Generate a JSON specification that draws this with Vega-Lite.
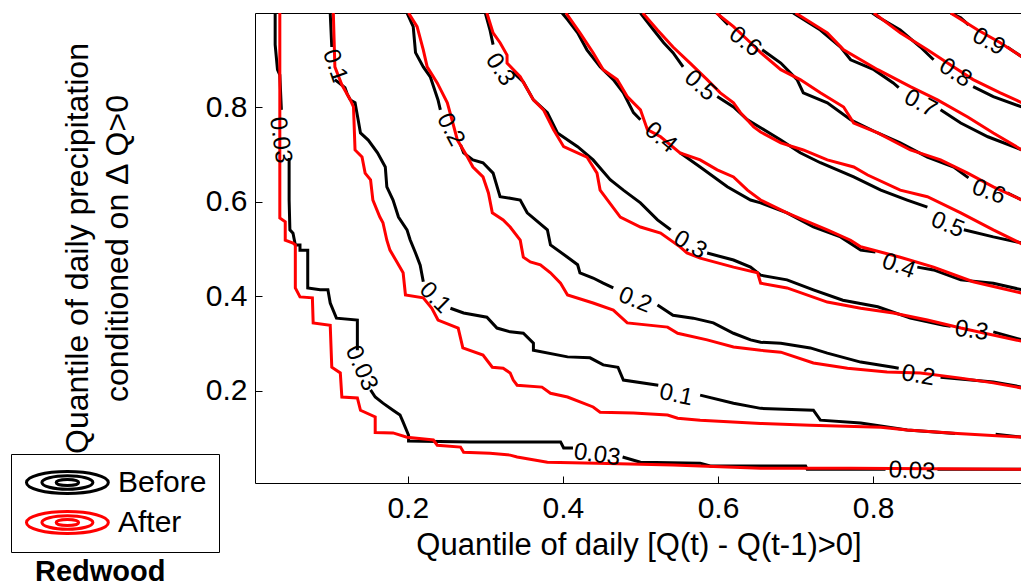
{
"$schema":"https://vega.github.io/schema/vega-lite/v6.json",
"width":767,"height":470,
"autosize":{"type":"none"},
"padding":{"left":255,"top":13,"right":0,"bottom":104},
"background":"white",
"config":{"font":"Liberation Sans","view":{"stroke":"black","strokeWidth":1},
"axis":{"grid":false,"domain":false,"labelFontSize":30,"labelColor":"black","titleFontSize":31,"titleFontWeight":"normal","titleColor":"black","tickColor":"black","tickSize":-7,"tickWidth":1,"labelFont":"Liberation Sans","titleFont":"Liberation Sans"}},
"title":{"text":"Redwood","orient":"bottom","anchor":"start","frame":"group","dx":-220,"fontSize":29,"fontWeight":"bold","font":"Liberation Sans","color":"black","offset":-2},
"datasets":{
"lines":[
{"s":"Before","g":"b03a","x":0.029,"y":1.0},{"s":"Before","g":"b03a","x":0.029,"y":0.933},{"s":"Before","g":"b03a","x":0.032,"y":0.880},{"s":"Before","g":"b03a","x":0.035,"y":0.869},{"s":"Before","g":"b03a","x":0.037,"y":0.795},
{"s":"Before","g":"b03b","x":0.047,"y":0.693},{"s":"Before","g":"b03b","x":0.047,"y":0.604},{"s":"Before","g":"b03b","x":0.048,"y":0.541},{"s":"Before","g":"b03b","x":0.052,"y":0.534},{"s":"Before","g":"b03b","x":0.055,"y":0.509},{"s":"Before","g":"b03b","x":0.061,"y":0.509},{"s":"Before","g":"b03b","x":0.061,"y":0.498},{"s":"Before","g":"b03b","x":0.071,"y":0.498},{"s":"Before","g":"b03b","x":0.071,"y":0.418},{"s":"Before","g":"b03b","x":0.087,"y":0.414},{"s":"Before","g":"b03b","x":0.097,"y":0.414},{"s":"Before","g":"b03b","x":0.100,"y":0.386},{"s":"Before","g":"b03b","x":0.108,"y":0.354},{"s":"Before","g":"b03b","x":0.135,"y":0.350},{"s":"Before","g":"b03b","x":0.135,"y":0.286},
{"s":"Before","g":"b03c","x":0.152,"y":0.202},{"s":"Before","g":"b03c","x":0.158,"y":0.187},{"s":"Before","g":"b03c","x":0.168,"y":0.174},{"s":"Before","g":"b03c","x":0.181,"y":0.159},{"s":"Before","g":"b03c","x":0.190,"y":0.149},{"s":"Before","g":"b03c","x":0.194,"y":0.134},{"s":"Before","g":"b03c","x":0.201,"y":0.106},{"s":"Before","g":"b03c","x":0.201,"y":0.094},{"s":"Before","g":"b03c","x":0.281,"y":0.092},{"s":"Before","g":"b03c","x":0.397,"y":0.092},{"s":"Before","g":"b03c","x":0.401,"y":0.079},{"s":"Before","g":"b03c","x":0.413,"y":0.079},
{"s":"Before","g":"b03d","x":0.477,"y":0.060},{"s":"Before","g":"b03d","x":0.500,"y":0.049},{"s":"Before","g":"b03d","x":0.577,"y":0.047},{"s":"Before","g":"b03d","x":0.590,"y":0.041},{"s":"Before","g":"b03d","x":0.713,"y":0.041},{"s":"Before","g":"b03d","x":0.715,"y":0.034},{"s":"Before","g":"b03d","x":0.816,"y":0.034},
{"s":"Before","g":"b03e","x":0.883,"y":0.034},{"s":"Before","g":"b03e","x":0.992,"y":0.034},
{"s":"Before","g":"b10a","x":0.100,"y":1.0},{"s":"Before","g":"b10a","x":0.101,"y":0.964},{"s":"Before","g":"b10a","x":0.102,"y":0.928},
{"s":"Before","g":"b10b","x":0.106,"y":0.859},{"s":"Before","g":"b10b","x":0.119,"y":0.842},{"s":"Before","g":"b10b","x":0.122,"y":0.828},{"s":"Before","g":"b10b","x":0.126,"y":0.816},{"s":"Before","g":"b10b","x":0.132,"y":0.810},{"s":"Before","g":"b10b","x":0.136,"y":0.774},{"s":"Before","g":"b10b","x":0.139,"y":0.746},{"s":"Before","g":"b10b","x":0.149,"y":0.731},{"s":"Before","g":"b10b","x":0.161,"y":0.704},{"s":"Before","g":"b10b","x":0.171,"y":0.674},{"s":"Before","g":"b10b","x":0.173,"y":0.632},{"s":"Before","g":"b10b","x":0.181,"y":0.604},{"s":"Before","g":"b10b","x":0.188,"y":0.568},{"s":"Before","g":"b10b","x":0.199,"y":0.541},{"s":"Before","g":"b10b","x":0.203,"y":0.520},{"s":"Before","g":"b10b","x":0.210,"y":0.492},{"s":"Before","g":"b10b","x":0.216,"y":0.466},{"s":"Before","g":"b10b","x":0.220,"y":0.431},
{"s":"Before","g":"b10c","x":0.255,"y":0.375},{"s":"Before","g":"b10c","x":0.272,"y":0.365},{"s":"Before","g":"b10c","x":0.302,"y":0.356},{"s":"Before","g":"b10c","x":0.315,"y":0.333},{"s":"Before","g":"b10c","x":0.332,"y":0.325},{"s":"Before","g":"b10c","x":0.349,"y":0.322},{"s":"Before","g":"b10c","x":0.362,"y":0.301},{"s":"Before","g":"b10c","x":0.362,"y":0.286},{"s":"Before","g":"b10c","x":0.406,"y":0.272},{"s":"Before","g":"b10c","x":0.435,"y":0.270},{"s":"Before","g":"b10c","x":0.452,"y":0.255},{"s":"Before","g":"b10c","x":0.471,"y":0.250},{"s":"Before","g":"b10c","x":0.478,"y":0.223},{"s":"Before","g":"b10c","x":0.523,"y":0.212},
{"s":"Before","g":"b10d","x":0.577,"y":0.191},{"s":"Before","g":"b10d","x":0.620,"y":0.174},{"s":"Before","g":"b10d","x":0.655,"y":0.163},{"s":"Before","g":"b10d","x":0.723,"y":0.159},{"s":"Before","g":"b10d","x":0.732,"y":0.138},{"s":"Before","g":"b10d","x":0.784,"y":0.132},{"s":"Before","g":"b10d","x":0.844,"y":0.117},{"s":"Before","g":"b10d","x":0.906,"y":0.110},
{"s":"Before","g":"b10e","x":0.958,"y":0.108},{"s":"Before","g":"b10e","x":0.992,"y":0.102},
{"s":"Before","g":"b20a","x":0.199,"y":1.0},{"s":"Before","g":"b20a","x":0.207,"y":0.971},{"s":"Before","g":"b20a","x":0.210,"y":0.916},{"s":"Before","g":"b20a","x":0.220,"y":0.886},{"s":"Before","g":"b20a","x":0.229,"y":0.865},{"s":"Before","g":"b20a","x":0.239,"y":0.816},{"s":"Before","g":"b20a","x":0.242,"y":0.795},
{"s":"Before","g":"b20b","x":0.268,"y":0.721},{"s":"Before","g":"b20b","x":0.272,"y":0.704},{"s":"Before","g":"b20b","x":0.284,"y":0.689},{"s":"Before","g":"b20b","x":0.297,"y":0.683},{"s":"Before","g":"b20b","x":0.310,"y":0.661},{"s":"Before","g":"b20b","x":0.319,"y":0.611},{"s":"Before","g":"b20b","x":0.332,"y":0.608},{"s":"Before","g":"b20b","x":0.345,"y":0.604},{"s":"Before","g":"b20b","x":0.354,"y":0.577},{"s":"Before","g":"b20b","x":0.380,"y":0.541},{"s":"Before","g":"b20b","x":0.384,"y":0.509},{"s":"Before","g":"b20b","x":0.406,"y":0.483},{"s":"Before","g":"b20b","x":0.419,"y":0.467},{"s":"Before","g":"b20b","x":0.422,"y":0.450},{"s":"Before","g":"b20b","x":0.439,"y":0.439},{"s":"Before","g":"b20b","x":0.452,"y":0.428},{"s":"Before","g":"b20b","x":0.465,"y":0.418},
{"s":"Before","g":"b20c","x":0.522,"y":0.382},{"s":"Before","g":"b20c","x":0.542,"y":0.360},{"s":"Before","g":"b20c","x":0.568,"y":0.354},{"s":"Before","g":"b20c","x":0.594,"y":0.344},{"s":"Before","g":"b20c","x":0.620,"y":0.322},{"s":"Before","g":"b20c","x":0.642,"y":0.308},{"s":"Before","g":"b20c","x":0.655,"y":0.303},{"s":"Before","g":"b20c","x":0.681,"y":0.301},{"s":"Before","g":"b20c","x":0.719,"y":0.291},{"s":"Before","g":"b20c","x":0.741,"y":0.280},{"s":"Before","g":"b20c","x":0.784,"y":0.261},{"s":"Before","g":"b20c","x":0.826,"y":0.250},{"s":"Before","g":"b20c","x":0.833,"y":0.248},
{"s":"Before","g":"b20d","x":0.887,"y":0.229},{"s":"Before","g":"b20d","x":0.955,"y":0.219},{"s":"Before","g":"b20d","x":0.992,"y":0.208},
{"s":"Before","g":"b30a","x":0.300,"y":1.0},{"s":"Before","g":"b30a","x":0.306,"y":0.964},{"s":"Before","g":"b30a","x":0.310,"y":0.933},
{"s":"Before","g":"b30b","x":0.335,"y":0.876},{"s":"Before","g":"b30b","x":0.349,"y":0.854},{"s":"Before","g":"b30b","x":0.362,"y":0.816},{"s":"Before","g":"b30b","x":0.380,"y":0.789},{"s":"Before","g":"b30b","x":0.393,"y":0.746},{"s":"Before","g":"b30b","x":0.419,"y":0.717},{"s":"Before","g":"b30b","x":0.439,"y":0.689},{"s":"Before","g":"b30b","x":0.461,"y":0.647},{"s":"Before","g":"b30b","x":0.478,"y":0.625},{"s":"Before","g":"b30b","x":0.500,"y":0.598},{"s":"Before","g":"b30b","x":0.522,"y":0.562},{"s":"Before","g":"b30b","x":0.539,"y":0.541},
{"s":"Before","g":"b30c","x":0.586,"y":0.492},{"s":"Before","g":"b30c","x":0.620,"y":0.477},{"s":"Before","g":"b30c","x":0.642,"y":0.462},{"s":"Before","g":"b30c","x":0.655,"y":0.445},{"s":"Before","g":"b30c","x":0.689,"y":0.435},{"s":"Before","g":"b30c","x":0.723,"y":0.414},{"s":"Before","g":"b30c","x":0.761,"y":0.392},{"s":"Before","g":"b30c","x":0.806,"y":0.378},{"s":"Before","g":"b30c","x":0.848,"y":0.354},{"s":"Before","g":"b30c","x":0.891,"y":0.339},{"s":"Before","g":"b30c","x":0.900,"y":0.337},
{"s":"Before","g":"b30d","x":0.955,"y":0.325},{"s":"Before","g":"b30d","x":0.992,"y":0.308},
{"s":"Before","g":"b40a","x":0.399,"y":1.0},{"s":"Before","g":"b40a","x":0.406,"y":0.986},{"s":"Before","g":"b40a","x":0.419,"y":0.958},{"s":"Before","g":"b40a","x":0.431,"y":0.922},{"s":"Before","g":"b40a","x":0.448,"y":0.886},{"s":"Before","g":"b40a","x":0.465,"y":0.859},{"s":"Before","g":"b40a","x":0.478,"y":0.831},{"s":"Before","g":"b40a","x":0.491,"y":0.789},{"s":"Before","g":"b40a","x":0.500,"y":0.774},
{"s":"Before","g":"b40b","x":0.551,"y":0.704},{"s":"Before","g":"b40b","x":0.577,"y":0.674},{"s":"Before","g":"b40b","x":0.612,"y":0.632},{"s":"Before","g":"b40b","x":0.642,"y":0.604},{"s":"Before","g":"b40b","x":0.655,"y":0.598},{"s":"Before","g":"b40b","x":0.689,"y":0.577},{"s":"Before","g":"b40b","x":0.723,"y":0.547},{"s":"Before","g":"b40b","x":0.758,"y":0.526},{"s":"Before","g":"b40b","x":0.784,"y":0.498},{"s":"Before","g":"b40b","x":0.803,"y":0.494},
{"s":"Before","g":"b40c","x":0.857,"y":0.462},{"s":"Before","g":"b40c","x":0.878,"y":0.456},{"s":"Before","g":"b40c","x":0.913,"y":0.435},{"s":"Before","g":"b40c","x":0.955,"y":0.428},{"s":"Before","g":"b40c","x":0.992,"y":0.414},
{"s":"Before","g":"b50a","x":0.500,"y":1.0},{"s":"Before","g":"b50a","x":0.517,"y":0.964},{"s":"Before","g":"b50a","x":0.530,"y":0.937},{"s":"Before","g":"b50a","x":0.542,"y":0.916},{"s":"Before","g":"b50a","x":0.555,"y":0.886},
{"s":"Before","g":"b50b","x":0.599,"y":0.823},{"s":"Before","g":"b50b","x":0.620,"y":0.801},{"s":"Before","g":"b50b","x":0.638,"y":0.774},{"s":"Before","g":"b50b","x":0.655,"y":0.757},{"s":"Before","g":"b50b","x":0.681,"y":0.731},{"s":"Before","g":"b50b","x":0.706,"y":0.704},{"s":"Before","g":"b50b","x":0.732,"y":0.683},{"s":"Before","g":"b50b","x":0.775,"y":0.653},{"s":"Before","g":"b50b","x":0.810,"y":0.625},{"s":"Before","g":"b50b","x":0.844,"y":0.604},{"s":"Before","g":"b50b","x":0.870,"y":0.589},
{"s":"Before","g":"b50c","x":0.917,"y":0.541},{"s":"Before","g":"b50c","x":0.955,"y":0.526},{"s":"Before","g":"b50c","x":0.992,"y":0.513},
{"s":"Before","g":"b60a","x":0.599,"y":1.0},{"s":"Before","g":"b60a","x":0.603,"y":0.992},{"s":"Before","g":"b60a","x":0.613,"y":0.975},
{"s":"Before","g":"b60b","x":0.657,"y":0.922},{"s":"Before","g":"b60b","x":0.681,"y":0.894},{"s":"Before","g":"b60b","x":0.702,"y":0.859},{"s":"Before","g":"b60b","x":0.710,"y":0.831},{"s":"Before","g":"b60b","x":0.741,"y":0.810},{"s":"Before","g":"b60b","x":0.771,"y":0.774},{"s":"Before","g":"b60b","x":0.806,"y":0.746},{"s":"Before","g":"b60b","x":0.835,"y":0.725},{"s":"Before","g":"b60b","x":0.870,"y":0.695},{"s":"Before","g":"b60b","x":0.904,"y":0.674},{"s":"Before","g":"b60b","x":0.923,"y":0.651},
{"s":"Before","g":"b60c","x":0.973,"y":0.619},{"s":"Before","g":"b60c","x":0.992,"y":0.604},
{"s":"Before","g":"b70a","x":0.697,"y":1.0},{"s":"Before","g":"b70a","x":0.732,"y":0.964},{"s":"Before","g":"b70a","x":0.758,"y":0.928},{"s":"Before","g":"b70a","x":0.771,"y":0.901},{"s":"Before","g":"b70a","x":0.801,"y":0.880},{"s":"Before","g":"b70a","x":0.826,"y":0.852},{"s":"Before","g":"b70a","x":0.833,"y":0.842},
{"s":"Before","g":"b70b","x":0.887,"y":0.795},{"s":"Before","g":"b70b","x":0.913,"y":0.767},{"s":"Before","g":"b70b","x":0.948,"y":0.738},{"s":"Before","g":"b70b","x":0.992,"y":0.710},
{"s":"Before","g":"b80a","x":0.799,"y":1.0},{"s":"Before","g":"b80a","x":0.806,"y":0.992},{"s":"Before","g":"b80a","x":0.835,"y":0.964},{"s":"Before","g":"b80a","x":0.861,"y":0.928},{"s":"Before","g":"b80a","x":0.878,"y":0.901},
{"s":"Before","g":"b80b","x":0.929,"y":0.844},{"s":"Before","g":"b80b","x":0.955,"y":0.823},{"s":"Before","g":"b80b","x":0.992,"y":0.801},
{"s":"Before","g":"b90a","x":0.900,"y":1.0},{"s":"Before","g":"b90a","x":0.913,"y":0.990},{"s":"Before","g":"b90a","x":0.923,"y":0.975},
{"s":"Before","g":"b90b","x":0.973,"y":0.928},{"s":"Before","g":"b90b","x":0.992,"y":0.907},
{"s":"After","g":"r03","x":0.035,"y":1.0},{"s":"After","g":"r03","x":0.035,"y":0.566},{"s":"After","g":"r03","x":0.042,"y":0.558},{"s":"After","g":"r03","x":0.042,"y":0.519},{"s":"After","g":"r03","x":0.052,"y":0.513},{"s":"After","g":"r03","x":0.055,"y":0.509},{"s":"After","g":"r03","x":0.055,"y":0.418},{"s":"After","g":"r03","x":0.061,"y":0.399},{"s":"After","g":"r03","x":0.077,"y":0.397},{"s":"After","g":"r03","x":0.078,"y":0.344},{"s":"After","g":"r03","x":0.100,"y":0.339},{"s":"After","g":"r03","x":0.102,"y":0.250},{"s":"After","g":"r03","x":0.113,"y":0.238},{"s":"After","g":"r03","x":0.115,"y":0.187},{"s":"After","g":"r03","x":0.135,"y":0.185},{"s":"After","g":"r03","x":0.139,"y":0.159},{"s":"After","g":"r03","x":0.158,"y":0.145},{"s":"After","g":"r03","x":0.158,"y":0.112},{"s":"After","g":"r03","x":0.181,"y":0.111},{"s":"After","g":"r03","x":0.199,"y":0.102},{"s":"After","g":"r03","x":0.233,"y":0.096},{"s":"After","g":"r03","x":0.238,"y":0.085},{"s":"After","g":"r03","x":0.268,"y":0.081},{"s":"After","g":"r03","x":0.272,"y":0.070},{"s":"After","g":"r03","x":0.306,"y":0.068},{"s":"After","g":"r03","x":0.332,"y":0.064},{"s":"After","g":"r03","x":0.341,"y":0.060},{"s":"After","g":"r03","x":0.380,"y":0.049},{"s":"After","g":"r03","x":0.444,"y":0.047},{"s":"After","g":"r03","x":0.542,"y":0.043},{"s":"After","g":"r03","x":0.655,"y":0.036},{"s":"After","g":"r03","x":0.771,"y":0.036},{"s":"After","g":"r03","x":0.992,"y":0.034},
{"s":"After","g":"r10","x":0.104,"y":1.0},{"s":"After","g":"r10","x":0.105,"y":0.943},{"s":"After","g":"r10","x":0.106,"y":0.886},{"s":"After","g":"r10","x":0.115,"y":0.848},{"s":"After","g":"r10","x":0.126,"y":0.816},{"s":"After","g":"r10","x":0.130,"y":0.801},{"s":"After","g":"r10","x":0.132,"y":0.710},{"s":"After","g":"r10","x":0.141,"y":0.695},{"s":"After","g":"r10","x":0.145,"y":0.661},{"s":"After","g":"r10","x":0.152,"y":0.647},{"s":"After","g":"r10","x":0.155,"y":0.604},{"s":"After","g":"r10","x":0.164,"y":0.568},{"s":"After","g":"r10","x":0.168,"y":0.556},{"s":"After","g":"r10","x":0.173,"y":0.519},{"s":"After","g":"r10","x":0.177,"y":0.498},{"s":"After","g":"r10","x":0.186,"y":0.473},{"s":"After","g":"r10","x":0.194,"y":0.450},{"s":"After","g":"r10","x":0.197,"y":0.403},{"s":"After","g":"r10","x":0.220,"y":0.397},{"s":"After","g":"r10","x":0.231,"y":0.375},{"s":"After","g":"r10","x":0.239,"y":0.350},{"s":"After","g":"r10","x":0.265,"y":0.333},{"s":"After","g":"r10","x":0.271,"y":0.291},{"s":"After","g":"r10","x":0.297,"y":0.276},{"s":"After","g":"r10","x":0.309,"y":0.250},{"s":"After","g":"r10","x":0.323,"y":0.248},{"s":"After","g":"r10","x":0.332,"y":0.238},{"s":"After","g":"r10","x":0.336,"y":0.223},{"s":"After","g":"r10","x":0.341,"y":0.212},{"s":"After","g":"r10","x":0.373,"y":0.208},{"s":"After","g":"r10","x":0.384,"y":0.195},{"s":"After","g":"r10","x":0.406,"y":0.187},{"s":"After","g":"r10","x":0.439,"y":0.166},{"s":"After","g":"r10","x":0.448,"y":0.155},{"s":"After","g":"r10","x":0.491,"y":0.153},{"s":"After","g":"r10","x":0.535,"y":0.149},{"s":"After","g":"r10","x":0.548,"y":0.142},{"s":"After","g":"r10","x":0.577,"y":0.138},{"s":"After","g":"r10","x":0.655,"y":0.131},{"s":"After","g":"r10","x":0.719,"y":0.127},{"s":"After","g":"r10","x":0.810,"y":0.123},{"s":"After","g":"r10","x":0.844,"y":0.117},{"s":"After","g":"r10","x":0.909,"y":0.110},{"s":"After","g":"r10","x":0.992,"y":0.102},
{"s":"After","g":"r20","x":0.201,"y":1.0},{"s":"After","g":"r20","x":0.212,"y":0.971},{"s":"After","g":"r20","x":0.220,"y":0.922},{"s":"After","g":"r20","x":0.225,"y":0.886},{"s":"After","g":"r20","x":0.238,"y":0.852},{"s":"After","g":"r20","x":0.251,"y":0.810},{"s":"After","g":"r20","x":0.257,"y":0.774},{"s":"After","g":"r20","x":0.264,"y":0.731},{"s":"After","g":"r20","x":0.277,"y":0.695},{"s":"After","g":"r20","x":0.284,"y":0.674},{"s":"After","g":"r20","x":0.297,"y":0.653},{"s":"After","g":"r20","x":0.304,"y":0.619},{"s":"After","g":"r20","x":0.309,"y":0.577},{"s":"After","g":"r20","x":0.323,"y":0.562},{"s":"After","g":"r20","x":0.332,"y":0.547},{"s":"After","g":"r20","x":0.345,"y":0.519},{"s":"After","g":"r20","x":0.349,"y":0.483},{"s":"After","g":"r20","x":0.358,"y":0.473},{"s":"After","g":"r20","x":0.371,"y":0.467},{"s":"After","g":"r20","x":0.384,"y":0.450},{"s":"After","g":"r20","x":0.397,"y":0.428},{"s":"After","g":"r20","x":0.406,"y":0.403},{"s":"After","g":"r20","x":0.439,"y":0.386},{"s":"After","g":"r20","x":0.465,"y":0.371},{"s":"After","g":"r20","x":0.483,"y":0.344},{"s":"After","g":"r20","x":0.535,"y":0.335},{"s":"After","g":"r20","x":0.548,"y":0.322},{"s":"After","g":"r20","x":0.586,"y":0.308},{"s":"After","g":"r20","x":0.620,"y":0.293},{"s":"After","g":"r20","x":0.655,"y":0.286},{"s":"After","g":"r20","x":0.681,"y":0.282},{"s":"After","g":"r20","x":0.723,"y":0.259},{"s":"After","g":"r20","x":0.767,"y":0.248},{"s":"After","g":"r20","x":0.818,"y":0.240},{"s":"After","g":"r20","x":0.861,"y":0.238},{"s":"After","g":"r20","x":0.913,"y":0.227},{"s":"After","g":"r20","x":0.955,"y":0.217},{"s":"After","g":"r20","x":0.992,"y":0.206},
{"s":"After","g":"r30","x":0.302,"y":1.0},{"s":"After","g":"r30","x":0.310,"y":0.958},{"s":"After","g":"r30","x":0.319,"y":0.937},{"s":"After","g":"r30","x":0.328,"y":0.911},{"s":"After","g":"r30","x":0.328,"y":0.894},{"s":"After","g":"r30","x":0.345,"y":0.865},{"s":"After","g":"r30","x":0.362,"y":0.816},{"s":"After","g":"r30","x":0.375,"y":0.795},{"s":"After","g":"r30","x":0.388,"y":0.753},{"s":"After","g":"r30","x":0.401,"y":0.717},{"s":"After","g":"r30","x":0.431,"y":0.695},{"s":"After","g":"r30","x":0.444,"y":0.661},{"s":"After","g":"r30","x":0.448,"y":0.625},{"s":"After","g":"r30","x":0.474,"y":0.568},{"s":"After","g":"r30","x":0.500,"y":0.547},{"s":"After","g":"r30","x":0.526,"y":0.534},{"s":"After","g":"r30","x":0.551,"y":0.505},{"s":"After","g":"r30","x":0.560,"y":0.492},{"s":"After","g":"r30","x":0.577,"y":0.481},{"s":"After","g":"r30","x":0.620,"y":0.462},{"s":"After","g":"r30","x":0.651,"y":0.450},{"s":"After","g":"r30","x":0.655,"y":0.428},{"s":"After","g":"r30","x":0.689,"y":0.418},{"s":"After","g":"r30","x":0.741,"y":0.388},{"s":"After","g":"r30","x":0.784,"y":0.375},{"s":"After","g":"r30","x":0.826,"y":0.365},{"s":"After","g":"r30","x":0.870,"y":0.350},{"s":"After","g":"r30","x":0.913,"y":0.333},{"s":"After","g":"r30","x":0.992,"y":0.305},
{"s":"After","g":"r40","x":0.404,"y":1.0},{"s":"After","g":"r40","x":0.422,"y":0.958},{"s":"After","g":"r40","x":0.439,"y":0.916},{"s":"After","g":"r40","x":0.452,"y":0.880},{"s":"After","g":"r40","x":0.470,"y":0.859},{"s":"After","g":"r40","x":0.483,"y":0.823},{"s":"After","g":"r40","x":0.500,"y":0.795},{"s":"After","g":"r40","x":0.509,"y":0.753},{"s":"After","g":"r40","x":0.526,"y":0.738},{"s":"After","g":"r40","x":0.551,"y":0.704},{"s":"After","g":"r40","x":0.577,"y":0.689},{"s":"After","g":"r40","x":0.599,"y":0.668},{"s":"After","g":"r40","x":0.620,"y":0.653},{"s":"After","g":"r40","x":0.638,"y":0.625},{"s":"After","g":"r40","x":0.655,"y":0.604},{"s":"After","g":"r40","x":0.689,"y":0.577},{"s":"After","g":"r40","x":0.710,"y":0.562},{"s":"After","g":"r40","x":0.741,"y":0.541},{"s":"After","g":"r40","x":0.771,"y":0.519},{"s":"After","g":"r40","x":0.784,"y":0.505},{"s":"After","g":"r40","x":0.835,"y":0.483},{"s":"After","g":"r40","x":0.878,"y":0.462},{"s":"After","g":"r40","x":0.929,"y":0.431},{"s":"After","g":"r40","x":0.992,"y":0.407},
{"s":"After","g":"r50","x":0.503,"y":1.0},{"s":"After","g":"r50","x":0.522,"y":0.964},{"s":"After","g":"r50","x":0.542,"y":0.928},{"s":"After","g":"r50","x":0.564,"y":0.894},{"s":"After","g":"r50","x":0.586,"y":0.859},{"s":"After","g":"r50","x":0.603,"y":0.831},{"s":"After","g":"r50","x":0.620,"y":0.810},{"s":"After","g":"r50","x":0.629,"y":0.789},{"s":"After","g":"r50","x":0.646,"y":0.759},{"s":"After","g":"r50","x":0.655,"y":0.748},{"s":"After","g":"r50","x":0.681,"y":0.725},{"s":"After","g":"r50","x":0.710,"y":0.710},{"s":"After","g":"r50","x":0.741,"y":0.689},{"s":"After","g":"r50","x":0.775,"y":0.674},{"s":"After","g":"r50","x":0.793,"y":0.657},{"s":"After","g":"r50","x":0.835,"y":0.625},{"s":"After","g":"r50","x":0.870,"y":0.611},{"s":"After","g":"r50","x":0.913,"y":0.577},{"s":"After","g":"r50","x":0.955,"y":0.541},{"s":"After","g":"r50","x":0.992,"y":0.511},
{"s":"After","g":"r60","x":0.598,"y":1.0},{"s":"After","g":"r60","x":0.620,"y":0.971},{"s":"After","g":"r60","x":0.642,"y":0.937},{"s":"After","g":"r60","x":0.655,"y":0.916},{"s":"After","g":"r60","x":0.681,"y":0.880},{"s":"After","g":"r60","x":0.706,"y":0.859},{"s":"After","g":"r60","x":0.732,"y":0.831},{"s":"After","g":"r60","x":0.762,"y":0.801},{"s":"After","g":"r60","x":0.775,"y":0.767},{"s":"After","g":"r60","x":0.806,"y":0.746},{"s":"After","g":"r60","x":0.848,"y":0.710},{"s":"After","g":"r60","x":0.887,"y":0.689},{"s":"After","g":"r60","x":0.922,"y":0.661},{"s":"After","g":"r60","x":0.955,"y":0.632},{"s":"After","g":"r60","x":0.992,"y":0.604},
{"s":"After","g":"r70","x":0.700,"y":1.0},{"s":"After","g":"r70","x":0.741,"y":0.958},{"s":"After","g":"r70","x":0.762,"y":0.922},{"s":"After","g":"r70","x":0.806,"y":0.880},{"s":"After","g":"r70","x":0.848,"y":0.844},{"s":"After","g":"r70","x":0.883,"y":0.816},{"s":"After","g":"r70","x":0.922,"y":0.780},{"s":"After","g":"r70","x":0.955,"y":0.746},{"s":"After","g":"r70","x":0.992,"y":0.710},
{"s":"After","g":"r80","x":0.801,"y":1.0},{"s":"After","g":"r80","x":0.835,"y":0.958},{"s":"After","g":"r80","x":0.870,"y":0.922},{"s":"After","g":"r80","x":0.896,"y":0.894},{"s":"After","g":"r80","x":0.929,"y":0.859},{"s":"After","g":"r80","x":0.964,"y":0.831},{"s":"After","g":"r80","x":0.992,"y":0.810},
{"s":"After","g":"r90","x":0.900,"y":1.0},{"s":"After","g":"r90","x":0.935,"y":0.964},{"s":"After","g":"r90","x":0.964,"y":0.937},{"s":"After","g":"r90","x":0.992,"y":0.907}
],
"labels":[
{"t":"0.03","x":0.0355,"y":0.731,"a":82},{"t":"0.1","x":0.106,"y":0.888,"a":71},{"t":"0.2","x":0.255,"y":0.753,"a":62},{"t":"0.3","x":0.319,"y":0.880,"a":57},{"t":"0.4","x":0.526,"y":0.736,"a":40},{"t":"0.5","x":0.577,"y":0.846,"a":42},{"t":"0.6","x":0.635,"y":0.939,"a":37},{"t":"0.7","x":0.861,"y":0.808,"a":28},{"t":"0.8","x":0.906,"y":0.873,"a":33},{"t":"0.9","x":0.949,"y":0.939,"a":28},
{"t":"0.03","x":0.140,"y":0.248,"a":66},{"t":"0.1","x":0.235,"y":0.397,"a":45},{"t":"0.2","x":0.493,"y":0.392,"a":22},{"t":"0.3","x":0.564,"y":0.509,"a":30},{"t":"0.4","x":0.833,"y":0.464,"a":20},{"t":"0.5","x":0.896,"y":0.551,"a":22},{"t":"0.6","x":0.949,"y":0.621,"a":20},
{"t":"0.1","x":0.546,"y":0.191,"a":12},{"t":"0.2","x":0.858,"y":0.232,"a":10},{"t":"0.3","x":0.927,"y":0.327,"a":8},{"t":"0.03","x":0.444,"y":0.064,"a":8},{"t":"0.03","x":0.850,"y":0.030,"a":3}
]},
"layer":[
{"data":{"name":"lines"},"transform":[{"filter":"datum.s === 'Before'"}],
"mark":{"type":"line","strokeWidth":3,"clip":true},
"encoding":{
"x":{"field":"x","type":"quantitative","scale":{"domain":[0.003,0.992],"nice":false,"zero":false},"axis":{"values":[0.2,0.4,0.6,0.8],"format":".1f","title":"Quantile of daily [Q(t) - Q(t-1)>0]","labelPadding":17,"titlePadding":7}},
"y":{"field":"y","type":"quantitative","scale":{"domain":[0.005,1.0],"nice":false,"zero":false},"axis":{"values":[0.2,0.4,0.6,0.8],"format":".1f","title":["Quantile of daily precipitation","conditioned on  \u0394 Q>0"],"titleLineHeight":40,"titleFontSize":32,"labelPadding":15,"titlePadding":71}},
"detail":{"field":"g"},
"order":{"value":null},
"color":{"field":"s","type":"nominal","scale":{"domain":["Before","After"],"range":["#000000","#ff0000"]},
"legend":{"orient":"none","legendX":-244,"legendY":441,"title":null,"symbolType":"M-0.87,0A2.73,0.73,0,1,1,4.59,0A2.73,0.73,0,1,1,-0.87,0M0.16,0A1.7,0.45,0,1,1,3.56,0A1.7,0.45,0,1,1,0.16,0M1.11,0A0.75,0.2,0,1,1,2.61,0A0.75,0.2,0,1,1,1.11,0","symbolSize":900,"symbolStrokeWidth":3,"symbolFillColor":"transparent","labelFontSize":30,"labelFont":"Liberation Sans","labelColor":"black","labelOffset":62,"rowPadding":5,"padding":12,"strokeColor":"black","fillColor":"white"}}
}},
{"data":{"name":"lines"},"transform":[{"filter":"datum.s === 'After'"}],
"mark":{"type":"line","strokeWidth":3,"clip":true},
"encoding":{
"x":{"field":"x","type":"quantitative"},
"y":{"field":"y","type":"quantitative"},
"detail":{"field":"g"},
"order":{"value":null},
"color":{"field":"s","type":"nominal"}
}},
{"data":{"name":"labels"},
"mark":{"type":"text","fontSize":24,"font":"Liberation Sans","color":"black","align":"center","baseline":"middle","clip":true},
"encoding":{
"x":{"field":"x","type":"quantitative"},
"y":{"field":"y","type":"quantitative"},
"text":{"field":"t"},
"angle":{"field":"a","type":"quantitative","scale":null}
}}
]
}
